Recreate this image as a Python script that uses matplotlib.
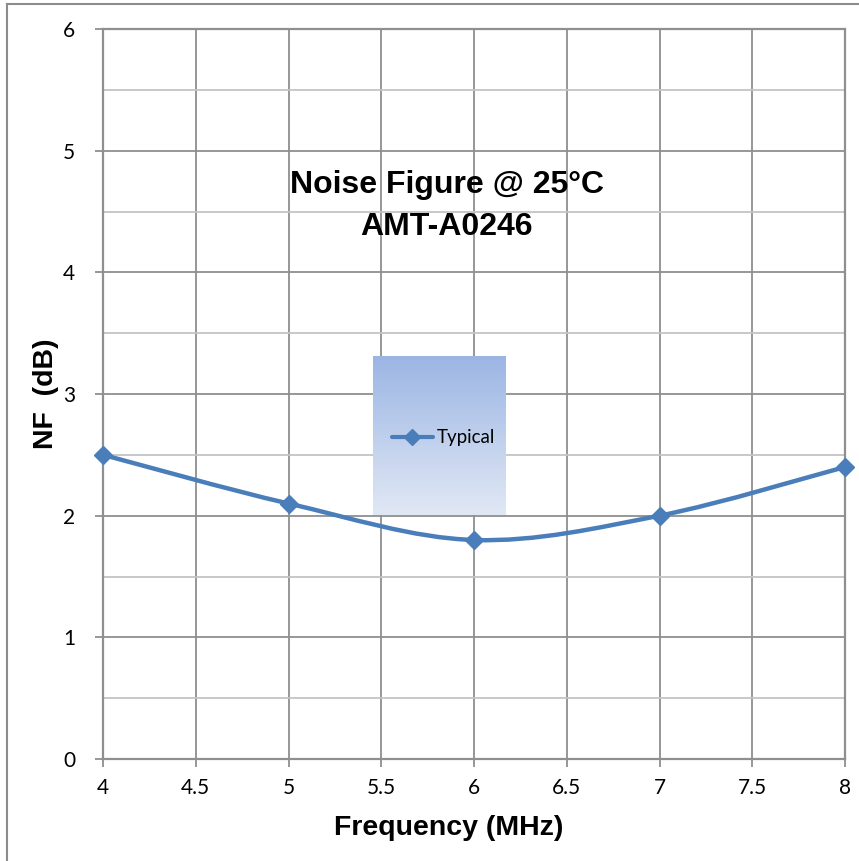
import numpy as np
import matplotlib
matplotlib.use("Agg")
import matplotlib.pyplot as plt
from matplotlib.path import Path
from matplotlib.patches import PathPatch
from matplotlib.lines import Line2D

plt.rcParams['font.family'] = ['Lato', 'DejaVu Sans']
BOLD_FAMILY = ['Liberation Sans', 'DejaVu Sans']

freq = [4, 5, 6, 7, 8]
nf_typical = [2.5, 2.1, 1.8, 2.0, 2.4]
series_name = "Typical"
title = "Noise Figure @ 25\u00b0C\nAMT-A0246"
xlabel = "Frequency (MHz)"
ylabel = "NF  (dB)"
xticks = [4, 4.5, 5, 5.5, 6, 6.5, 7, 7.5, 8]
xticklabels = ["4", "4.5", "5", "5.5", "6", "6.5", "7", "7.5", "8"]
yticks = [0, 1, 2, 3, 4, 5, 6]

W, H = 859, 861
fig = plt.figure(figsize=(W / 100, H / 100), dpi=100)

# outer chart border (top and left visible)
fig.add_artist(Line2D([7 / W, 7 / W], [0, 1 - 4 / H], color='#8c8c8c', lw=1.5))
fig.add_artist(Line2D([7 / W, 1], [1 - 4 / H, 1 - 4 / H], color='#8c8c8c', lw=1.5))

ax = fig.add_axes([103 / W, 1 - 759 / H, (845 - 103) / W, (759 - 29) / H])
ax.set_xlim(4, 8)
ax.set_ylim(0, 6)

grid_major = '#8f8f8f'
grid_minor = '#c4c4c4'
ax.set_xticks(xticks)
ax.set_xticklabels(xticklabels)
ax.set_yticks(yticks)
ax.set_yticks(np.arange(0.5, 6, 1.0), minor=True)
ax.grid(True, which='major', color=grid_major, lw=1.3)
ax.grid(True, which='minor', axis='y', color=grid_minor, lw=1.3)
ax.tick_params(axis='both', which='major', direction='out', length=6, width=1.3,
               color=grid_major, labelsize=15, pad=8)
ax.tick_params(axis='y', which='minor', length=0)
ax.tick_params(axis='y', pad=14)
for s in ax.spines.values():
    s.set_color(grid_major)
    s.set_linewidth(1.6)
ax.set_axisbelow(True)

# smoothed line (Bezier through the data points, Excel-style smoothing)
pts = np.column_stack([freq, nf_typical]).astype(float)
n = len(pts)
verts = [tuple(pts[0])]
codes = [Path.MOVETO]
for i in range(n - 1):
    p0 = pts[i - 1] if i > 0 else pts[i]
    p1 = pts[i]
    p2 = pts[i + 1]
    p3 = pts[i + 2] if i + 2 < n else pts[i + 1]
    c1 = p1 + (p2 - p0) / 6.0
    c2 = p2 - (p3 - p1) / 6.0
    verts += [tuple(c1), tuple(c2), tuple(p2)]
    codes += [Path.CURVE4] * 3
line_color = '#4a7ebb'
ax.add_patch(PathPatch(Path(verts, codes), facecolor='none', edgecolor=line_color,
                       lw=3.2, capstyle='round', joinstyle='round', zorder=3))
ax.plot(freq, nf_typical, linestyle='none', marker='D', markersize=9.5,
        color=line_color, clip_on=False, zorder=4)

ax.text(0.463, 0.7575, title, transform=ax.transAxes, ha='center', va='center',
        fontsize=23, fontweight='bold', family=BOLD_FAMILY, linespacing=1.5)

ax.set_xlabel(xlabel, fontsize=20.5, fontweight='bold', family=BOLD_FAMILY, labelpad=12)
ax.xaxis.label.set_x(0.466)
ax.set_ylabel(ylabel, fontsize=20.5, fontweight='bold', family=BOLD_FAMILY, labelpad=3)

# legend box with vertical gradient
lax = fig.add_axes([373 / W, 1 - 515 / H, (506 - 373) / W, (515 - 356) / H])
top = np.array([0x9b, 0xb5, 0xe3]) / 255
bot = np.array([0xe1, 0xe8, 0xf5]) / 255
t = np.linspace(0, 1, 256)[:, None]
grad = top[None, :] * (1 - t) + bot[None, :] * t
lax.imshow(grad[:, None, :], aspect='auto', extent=[0, 1, 0, 1])
lax.set_xlim(0, 1)
lax.set_ylim(0, 1)
lax.axis('off')
lax.plot([0.14, 0.45], [0.49, 0.49], color=line_color, lw=3.0, solid_capstyle='round')
lax.plot([0.295], [0.49], marker='D', markersize=8, color=line_color)
lax.text(0.48, 0.49, series_name, fontsize=13.5, va='center', ha='left')

fig.savefig('out.png', dpi=100, facecolor='white')
